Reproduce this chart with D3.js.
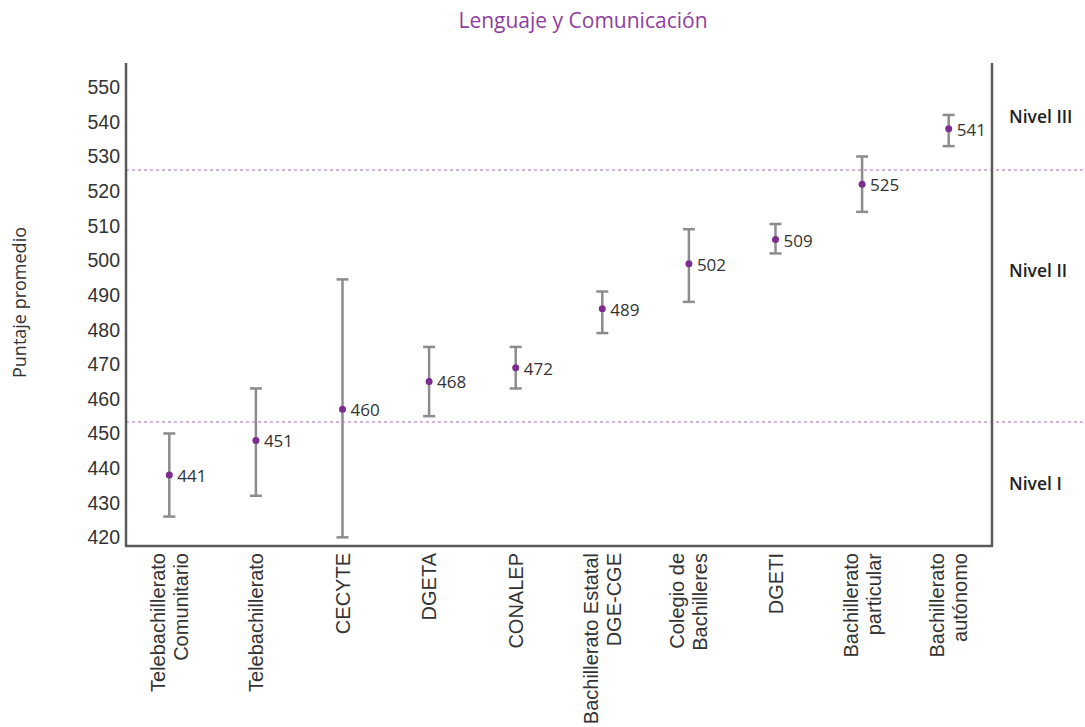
<!DOCTYPE html>
<html>
<head>
<meta charset="utf-8">
<script src="https://cdn.jsdelivr.net/npm/d3@7/dist/d3.min.js"></script>
<style>
  html, body { margin: 0; padding: 0; background: #fff; }
  svg { display: block; }
</style>
</head>
<body>
<svg id="chart" width="1085" height="727"></svg>
<script>
// ---- Data ----
const title = "Lenguaje y Comunicación";
const yTitle = "Puntaje promedio";
const categories = [
  ["Telebachillerato", "Comunitario"],
  ["Telebachillerato"],
  ["CECYTE"],
  ["DGETA"],
  ["CONALEP"],
  ["Bachillerato Estatal", "DGE-CGE"],
  ["Colegio de", "Bachilleres"],
  ["DGETI"],
  ["Bachillerato", "particular"],
  ["Bachillerato", "autónomo"]
];
const means = [441, 451, 460, 468, 472, 489, 502, 509, 525, 541];
const lower = [429, 435, 423, 458, 466, 482, 491, 505, 517, 536];
const upper = [453, 466, 497.5, 478, 478, 494, 512, 513.5, 533, 545];
const yTicks = [420, 430, 440, 450, 460, 470, 480, 490, 500, 510, 520, 530, 540, 550];
const levelCuts = [456.3, 529.1];
const levelNames = ["Nivel I", "Nivel II", "Nivel III"];

// ---- Layout ----
(function () {
const W = 1085, H = 727;
const mLeft = 126, mRight = 992, mTop = 63, mBottom = 546;
const svg = d3.select("#chart");

const x = d3.scaleBand().domain(d3.range(categories.length)).range([mLeft, mRight]);
const y = d3.scaleLinear().domain([420.5, 560]).range([mBottom, mTop]);

const purple = "#7d2d90";
const grey = "#8c8c8c";
const axisCol = "#5a5a5a";
const sans = "'Liberation Sans', Arial, sans-serif";
const humanist = "'Open Sans', 'Noto Sans', sans-serif";

// Title
svg.append("text")
  .attr("x", 583).attr("y", 28)
  .attr("text-anchor", "middle")
  .attr("font-family", humanist)
  .attr("font-size", 21)
  .attr("fill", "#8e3ea2")
  .text(title);

// Y axis title
svg.append("text")
  .attr("transform", `translate(26,${(mTop + mBottom) / 2 - 2}) rotate(-90)`)
  .attr("text-anchor", "middle")
  .attr("font-family", humanist)
  .attr("font-size", 18)
  .attr("fill", "#333")
  .text(yTitle);

// Level dashed lines
svg.append("g").selectAll("line").data(levelCuts).join("line")
  .attr("x1", mLeft).attr("x2", W)
  .attr("y1", d => y(d)).attr("y2", d => y(d))
  .attr("stroke", "#c59bd6")
  .attr("stroke-width", 1.5)
  .attr("stroke-dasharray", "3,3");

// Y axis (labels only)
const yAxis = d3.axisLeft(y).tickValues(yTicks).tickSize(0).tickPadding(6).tickFormat(d3.format("d"));
const gy = svg.append("g").attr("transform", `translate(${mLeft},0)`).call(yAxis);
gy.select(".domain").remove();
gy.selectAll("text")
  .attr("font-family", sans)
  .attr("font-size", 19.5)
  .attr("fill", "#333")
  .attr("dy", "-0.2em");

// Axis lines
svg.append("line").attr("x1", mLeft).attr("x2", mLeft).attr("y1", mTop).attr("y2", mBottom)
  .attr("stroke", axisCol).attr("stroke-width", 2.5);
svg.append("line").attr("x1", mLeft - 1).attr("x2", mRight + 1).attr("y1", mBottom).attr("y2", mBottom)
  .attr("stroke", axisCol).attr("stroke-width", 2.5);
svg.append("line").attr("x1", mRight).attr("x2", mRight).attr("y1", mTop).attr("y2", mBottom)
  .attr("stroke", axisCol).attr("stroke-width", 2.5);

// X labels
const xl = svg.append("g").selectAll("text").data(categories).join("text")
  .attr("transform", (d, i) => `translate(${x(i) + x.bandwidth() / 2},553) rotate(-90)`)
  .attr("text-anchor", "end")
  .attr("font-family", sans)
  .attr("font-size", 20)
  .attr("fill", "#333");
xl.each(function(lines) {
  const t = d3.select(this);
  lines.forEach((ln, j) => {
    t.append("tspan")
      .attr("x", 0)
      .attr("y", (j - (lines.length - 1) / 2) * 23)
      .attr("dy", "0.35em")
      .text(ln);
  });
});

// Error bars
const idx = d3.range(means.length);
const cap = 6;
const eb = svg.append("g").selectAll("g").data(idx).join("g")
  .attr("stroke", grey).attr("stroke-width", 2.5).attr("fill", "none");
eb.append("line")
  .attr("x1", i => x(i) + x.bandwidth() / 2).attr("x2", i => x(i) + x.bandwidth() / 2)
  .attr("y1", i => y(upper[i])).attr("y2", i => y(lower[i]));
eb.append("line")
  .attr("x1", i => x(i) + x.bandwidth() / 2 - cap).attr("x2", i => x(i) + x.bandwidth() / 2 + cap)
  .attr("y1", i => y(upper[i])).attr("y2", i => y(upper[i]));
eb.append("line")
  .attr("x1", i => x(i) + x.bandwidth() / 2 - cap).attr("x2", i => x(i) + x.bandwidth() / 2 + cap)
  .attr("y1", i => y(lower[i])).attr("y2", i => y(lower[i]));

// Points
svg.append("g").selectAll("circle").data(idx).join("circle")
  .attr("cx", i => x(i) + x.bandwidth() / 2)
  .attr("cy", i => y(means[i]))
  .attr("r", 3.5)
  .attr("fill", purple);

// Value labels
svg.append("g").selectAll("text").data(idx).join("text")
  .attr("x", i => x(i) + x.bandwidth() / 2 + 8)
  .attr("y", i => y(means[i]) + 1)
  .attr("dy", "0.35em")
  .attr("font-family", humanist)
  .attr("font-size", 17)
  .attr("fill", "#333")
  .text(i => means[i]);

// Level labels
const levelLabelAt = [438.4, 500, 544.5];
svg.append("g").selectAll("text").data(levelNames).join("text")
  .attr("x", 1009)
  .attr("y", (d, i) => y(levelLabelAt[i]))
  .attr("dy", "0.35em")
  .attr("font-family", humanist)
  .attr("font-size", 17.5)
  .attr("font-weight", 600)
  .attr("fill", "#222")
  .text(d => d);
})();
</script>
</body>
</html>
